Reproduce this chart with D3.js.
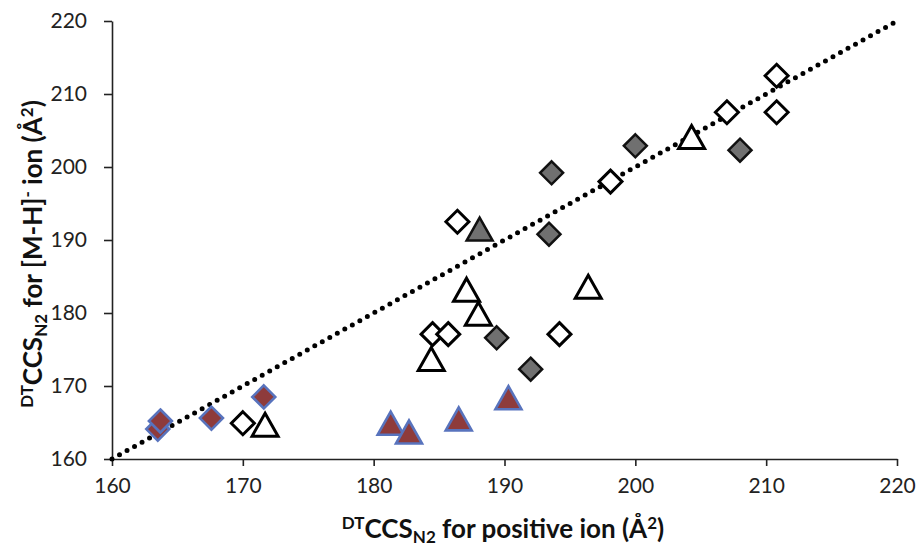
<!DOCTYPE html>
<html>
<head>
<meta charset="utf-8">
<script src="https://cdn.jsdelivr.net/npm/d3@7"></script>
<style>
  body { margin: 0; background: #fff; }
  text { font-family: Lato, "Open Sans", sans-serif; }
</style>
</head>
<body>
<div id="chart"></div>
<script>
// axis ranges and ticks
const xDomain = [160, 220];
const yDomain = [160, 220];
const xTicks = [160, 170, 180, 190, 200, 210, 220];
const yTicks = [160, 170, 180, 190, 200, 210, 220];

// [positive ion CCS, [M-H]- CCS]
const whiteDiamonds = [
  [210.8, 212.5], [210.8, 207.5], [207.0, 207.5], [198.1, 198.0],
  [186.4, 192.5], [184.5, 177.1], [185.7, 177.1], [194.2, 177.1],
  [170.0, 164.9]
];
const whiteTriangles = [
  [204.3, 204.1], [196.4, 183.6], [187.1, 183.2], [188.0, 179.9],
  [184.4, 173.7], [171.7, 164.7]
];
const grayDiamonds = [
  [193.6, 199.2], [200.0, 202.9], [208.0, 202.3], [193.4, 190.8],
  [189.4, 176.6], [192.0, 172.3]
];
const grayTriangles = [
  [188.1, 191.5]
];
const brownDiamonds = [
  [163.5, 164.1], [163.7, 165.2], [167.6, 165.6], [171.6, 168.5]
];
const brownTriangles = [
  [181.3, 164.9], [182.7, 163.7], [186.5, 165.5], [190.3, 168.4]
];

const width = 916, height = 547;
const margin = { top: 21, right: 19, bottom: 88, left: 112 };

const svg = d3.select("#chart").append("svg")
  .attr("width", width)
  .attr("height", height);

const x = d3.scaleLinear().domain(xDomain).range([margin.left, width - margin.right]);
const y = d3.scaleLinear().domain(yDomain).range([height - margin.bottom, margin.top]);

// axes
const xAxis = svg.append("g")
  .attr("transform", "translate(0," + y(160) + ")")
  .call(d3.axisBottom(x).tickValues(xTicks).tickSize(7).tickSizeOuter(0).tickPadding(12));
const yAxis = svg.append("g")
  .attr("transform", "translate(" + x(160) + ",0)")
  .call(d3.axisLeft(y).tickValues(yTicks).tickSize(8).tickSizeOuter(0).tickPadding(17));

[xAxis, yAxis].forEach(function (g) {
  g.select(".domain").attr("stroke", "#222").attr("stroke-width", 1.6);
  g.selectAll(".tick line").attr("stroke", "#222").attr("stroke-width", 1.6);
  g.selectAll(".tick text")
    .attr("fill", "#222")
    .style("font-size", "21px")
    .style("font-family", "Lato, 'Open Sans', sans-serif");
});

// 1:1 dotted line
svg.append("line")
  .attr("x1", x(160)).attr("y1", y(160))
  .attr("x2", x(220)).attr("y2", y(220))
  .attr("stroke", "#000")
  .attr("stroke-width", 5)
  .attr("stroke-linecap", "round")
  .attr("stroke-dasharray", "0,8.6");

// marker shapes
const diamondPath = function (s) {
  return "M0," + (-s) + "L" + s + ",0L0," + s + "L" + (-s) + ",0Z";
};
const trianglePath = function (w, h) {
  return "M0," + (-h / 2) + "L" + (w / 2) + "," + (h / 2) + "L" + (-w / 2) + "," + (h / 2) + "Z";
};

function drawMarkers(data, path, fill, stroke, sw) {
  svg.append("g")
    .selectAll("path")
    .data(data)
    .enter()
    .append("path")
    .attr("d", path)
    .attr("transform", function (d) { return "translate(" + x(d[0]) + "," + y(d[1]) + ")"; })
    .attr("fill", fill)
    .attr("stroke", stroke)
    .attr("stroke-width", sw)
    .attr("stroke-linejoin", "miter");
}

const dPath = diamondPath(11.5);
const tPath = trianglePath(26, 23);

drawMarkers(brownDiamonds, dPath, "#8e3b3b", "#5873bd", 2.6);
drawMarkers(brownTriangles, tPath, "#8e3b3b", "#5873bd", 2.6);
drawMarkers(grayDiamonds, dPath, "#707070", "#111", 2.5);
drawMarkers(grayTriangles, tPath, "#707070", "#111", 2.5);
drawMarkers(whiteDiamonds, dPath, "#fff", "#000", 3);
drawMarkers(whiteTriangles, tPath, "#fff", "#000", 3);

// axis titles
const titleSize = "26px", smallSize = "17px";

const xTitle = svg.append("text")
  .attr("x", 503)
  .attr("y", 538)
  .attr("text-anchor", "middle")
  .style("font-size", titleSize)
  .style("font-weight", "bold")
  .attr("fill", "#111");
xTitle.append("tspan").text("DT").style("font-size", smallSize).attr("baseline-shift", "9px");
xTitle.append("tspan").text("CCS");
xTitle.append("tspan").text("N2").style("font-size", smallSize).attr("baseline-shift", "-5px");
xTitle.append("tspan").text(" for positive ion (Å");
xTitle.append("tspan").text("2").style("font-size", smallSize).attr("baseline-shift", "9px");
xTitle.append("tspan").text(")");

const yTitle = svg.append("text")
  .attr("transform", "translate(42,254) rotate(-90)")
  .attr("text-anchor", "middle")
  .style("font-size", titleSize)
  .style("font-weight", "bold")
  .attr("fill", "#111");
yTitle.append("tspan").text("DT").style("font-size", smallSize).attr("baseline-shift", "9px");
yTitle.append("tspan").text("CCS");
yTitle.append("tspan").text("N2").style("font-size", smallSize).attr("baseline-shift", "-5px");
yTitle.append("tspan").text(" for [M-H]");
yTitle.append("tspan").text("-").style("font-size", smallSize).attr("baseline-shift", "9px");
yTitle.append("tspan").text(" ion (Å");
yTitle.append("tspan").text("2").style("font-size", smallSize).attr("baseline-shift", "9px");
yTitle.append("tspan").text(")");
</script>
</body>
</html>
